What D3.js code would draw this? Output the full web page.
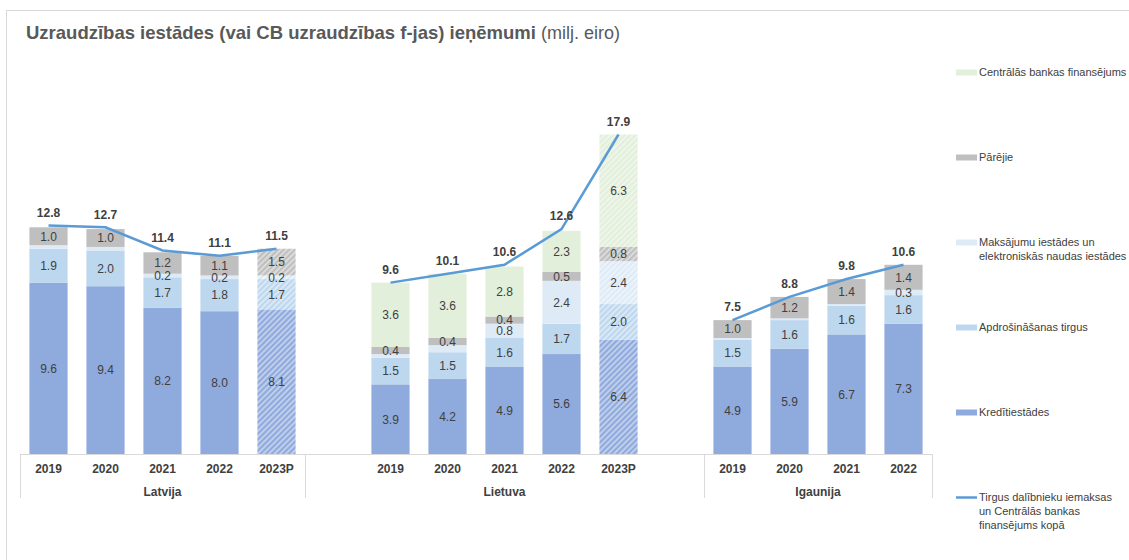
<!DOCTYPE html>
<html lang="lv">
<head>
    <meta charset="UTF-8">
    <title>Uzraudzības iestādes ieņēmumi</title>
    <script src="https://cdnjs.cloudflare.com/ajax/libs/d3/7.8.5/d3.min.js"></script>
    <style>
        body { margin: 0; background: #fff; font-family: Arial, "Liberation Sans", sans-serif; }
        svg { display: block; }
        .seg-label { font-size: 12px; fill: #404040; }
        .total-label { font-size: 12px; font-weight: bold; fill: #404040; }
        .axis-label { font-size: 12px; font-weight: bold; fill: #404040; }
        .legend text { font-size: 11px; fill: #404040; }
    </style>
</head>
<body>
<div id="chart"></div>
<script>
    // data (milj. eiro)
    const countries = ["Latvija", "Lietuva", "Igaunija"];
    const years = [
        ["2019", "2020", "2021", "2022", "2023P"],
        ["2019", "2020", "2021", "2022", "2023P"],
        ["2019", "2020", "2021", "2022"]
    ];
    const kreditiestades = [[9.6, 9.4, 8.2, 8.0, 8.1], [3.9, 4.2, 4.9, 5.6, 6.4], [4.9, 5.9, 6.7, 7.3]];
    const apdrosinasana = [[1.9, 2.0, 1.7, 1.8, 1.7], [1.5, 1.5, 1.6, 1.7, 2.0], [1.5, 1.6, 1.6, 1.6]];
    const maksajumu = [[0.2, 0.2, 0.2, 0.2, 0.2], [0.2, 0.4, 0.8, 2.4, 2.4], [0.1, 0.1, 0.1, 0.3]];
    const maksajumuLabeled = [[false, false, true, true, true], [false, false, true, true, true], [false, false, false, true]];
    const parejie = [[1.0, 1.0, 1.2, 1.1, 1.5], [0.4, 0.4, 0.4, 0.5, 0.8], [1.0, 1.2, 1.4, 1.4]];
    const cbFinansejums = [[0, 0, 0, 0, 0], [3.6, 3.6, 2.8, 2.3, 6.3], [0, 0, 0, 0]];
    const totals = [[12.8, 12.7, 11.4, 11.1, 11.5], [9.6, 10.1, 10.6, 12.6, 17.9], [7.5, 8.8, 9.8, 10.6]];

    const series = [
        { name: "Kredītiestādes", values: kreditiestades, color: "#8faadc" },
        { name: "Apdrošināšanas tirgus", values: apdrosinasana, color: "#bdd7ee" },
        { name: "Maksājumu iestādes un elektroniskās naudas iestādes", values: maksajumu, color: "#deebf7", labeled: maksajumuLabeled },
        { name: "Pārējie", values: parejie, color: "#bfbfbf" },
        { name: "Centrālās bankas finansējums", values: cbFinansejums, color: "#e2efda" }
    ];
    const lineColor = "#5b9bd5";

    const width = 1129, height = 560;
    const baseY = 454;

    const svg = d3.select("#chart").append("svg")
        .attr("width", width)
        .attr("height", height);

    // outer frame
    svg.append("rect")
        .attr("x", 6.5).attr("y", 10.5)
        .attr("width", 1200).attr("height", 600)
        .attr("fill", "none").attr("stroke", "#d9d9d9");

    const title = svg.append("text")
        .attr("x", 26).attr("y", 39)
        .attr("fill", "#595959")
        .style("font-size", "18.5px");
    title.append("tspan").attr("font-weight", "bold")
        .text("Uzraudzības iestādes (vai CB uzraudzības f-jas) ieņēmumi");
    title.append("tspan").style("font-size", "18px").text(" (milj. eiro)");

    // slots on the category axis, with blank ones round Lietuva
    const slots = [];
    countries.forEach((c, ci) => {
        if (c === "Lietuva") slots.push(c + "|blank-a");
        years[ci].forEach(y => slots.push(c + "|" + y));
        if (c === "Lietuva") slots.push(c + "|blank-b");
    });

    const x = d3.scaleBand()
        .domain(slots)
        .range([20, 932])
        .paddingInner(0.33)
        .paddingOuter(0.165);

    const y = d3.scaleLinear()
        .domain([0, 17.9])
        .range([baseY, baseY - 17.9 * 17.85]);

    // hatched patterns for forecast bars
    const defs = svg.append("defs");
    series.forEach((s, i) => {
        const p = defs.append("pattern")
            .attr("id", "hatch-" + i)
            .attr("patternUnits", "userSpaceOnUse")
            .attr("width", 4).attr("height", 4)
            .attr("patternTransform", "rotate(45)");
        p.append("rect").attr("width", 4).attr("height", 4)
            .attr("fill", d3.interpolateRgb(s.color, "#ffffff")(0.45));
        p.append("line").attr("x1", 1).attr("y1", 0).attr("x2", 1).attr("y2", 4)
            .attr("stroke", s.color).attr("stroke-width", 2.2);
    });

    // build segments
    const segments = [];
    countries.forEach((c, ci) => {
        years[ci].forEach((yr, yi) => {
            let acc = 0;
            series.forEach((s, si) => {
                const v = s.values[ci][yi];
                if (v > 0) {
                    segments.push({
                        key: c + "|" + yr, y0: acc, y1: acc + v, v: v, si: si,
                        forecast: yr.endsWith("P"),
                        labeled: s.labeled ? s.labeled[ci][yi] : true
                    });
                }
                acc += v;
            });
        });
    });

    svg.append("g").selectAll("rect")
        .data(segments)
        .enter().append("rect")
        .attr("x", d => x(d.key))
        .attr("width", x.bandwidth())
        .attr("y", d => y(d.y1))
        .attr("height", d => y(d.y0) - y(d.y1))
        .attr("fill", d => d.forecast ? "url(#hatch-" + d.si + ")" : series[d.si].color);

    svg.append("g").selectAll("text")
        .data(segments.filter(d => d.labeled))
        .enter().append("text")
        .attr("class", "seg-label")
        .attr("x", d => x(d.key) + x.bandwidth() / 2)
        .attr("y", d => (y(d.y0) + y(d.y1)) / 2)
        .attr("dy", "0.36em")
        .attr("text-anchor", "middle")
        .text(d => d3.format(".1f")(d.v));

    // total line, one per country
    const line = d3.line()
        .x(d => x(d.key) + x.bandwidth() / 2)
        .y(d => y(d.v));

    countries.forEach((c, ci) => {
        const pts = years[ci].map((yr, yi) => ({ key: c + "|" + yr, v: totals[ci][yi] }));
        svg.append("path")
            .datum(pts)
            .attr("d", line)
            .attr("fill", "none")
            .attr("stroke", lineColor)
            .attr("stroke-width", 2.5);
        svg.append("g").selectAll("text")
            .data(pts)
            .enter().append("text")
            .attr("class", "total-label")
            .attr("x", d => x(d.key) + x.bandwidth() / 2)
            .attr("y", d => y(d.v) - 13)
            .attr("dy", "0.36em")
            .attr("text-anchor", "middle")
            .text(d => d3.format(".1f")(d.v));
    });

    // category axis
    const half = (x.step() - x.bandwidth()) / 2;
    svg.append("line")
        .attr("x1", 20).attr("x2", 932)
        .attr("y1", baseY + 0.5).attr("y2", baseY + 0.5)
        .attr("stroke", "#d9d9d9");

    countries.forEach((c, ci) => {
        const keys = slots.filter(k => k.startsWith(c + "|"));
        const x0 = x(keys[0]) - half;
        const x1 = x(keys[keys.length - 1]) + x.bandwidth() + half;
        [x0, x1].forEach(xx => {
            svg.append("line")
                .attr("x1", Math.round(xx) + 0.5).attr("x2", Math.round(xx) + 0.5)
                .attr("y1", baseY).attr("y2", 498)
                .attr("stroke", "#d9d9d9");
        });
        svg.append("text")
            .attr("class", "axis-label")
            .attr("x", (x0 + x1) / 2)
            .attr("y", 492)
            .attr("dy", "0.36em")
            .attr("text-anchor", "middle")
            .text(c);
        years[ci].forEach(yr => {
            svg.append("text")
                .attr("class", "axis-label")
                .attr("x", x(c + "|" + yr) + x.bandwidth() / 2)
                .attr("y", 469)
                .attr("dy", "0.36em")
                .attr("text-anchor", "middle")
                .text(yr);
        });
    });

    // legend
    const legendItems = [
        { lines: ["Centrālās bankas finansējums"], color: series[4].color },
        { lines: ["Pārējie"], color: series[3].color },
        { lines: ["Maksājumu iestādes un", "elektroniskās naudas iestādes"], color: series[2].color },
        { lines: ["Apdrošināšanas tirgus"], color: series[1].color },
        { lines: ["Kredītiestādes"], color: series[0].color },
        { lines: ["Tirgus dalībnieku iemaksas", "un Centrālās bankas", "finansējums kopā"], color: lineColor, isLine: true }
    ];

    const legend = svg.append("g").attr("class", "legend");
    legendItems.forEach((item, i) => {
        const ly = 72.5 + i * 85;
        if (item.isLine) {
            legend.append("line")
                .attr("x1", 956).attr("x2", 977)
                .attr("y1", ly).attr("y2", ly)
                .attr("stroke", item.color).attr("stroke-width", 2.5);
        } else {
            legend.append("rect")
                .attr("x", 956).attr("y", ly - 3)
                .attr("width", 21).attr("height", 6)
                .attr("fill", item.color);
        }
        item.lines.forEach((t, li) => {
            legend.append("text")
                .attr("x", 979)
                .attr("y", ly + li * 14)
                .attr("dy", "0.35em")
                .text(t);
        });
    });
</script>
</body>
</html>
